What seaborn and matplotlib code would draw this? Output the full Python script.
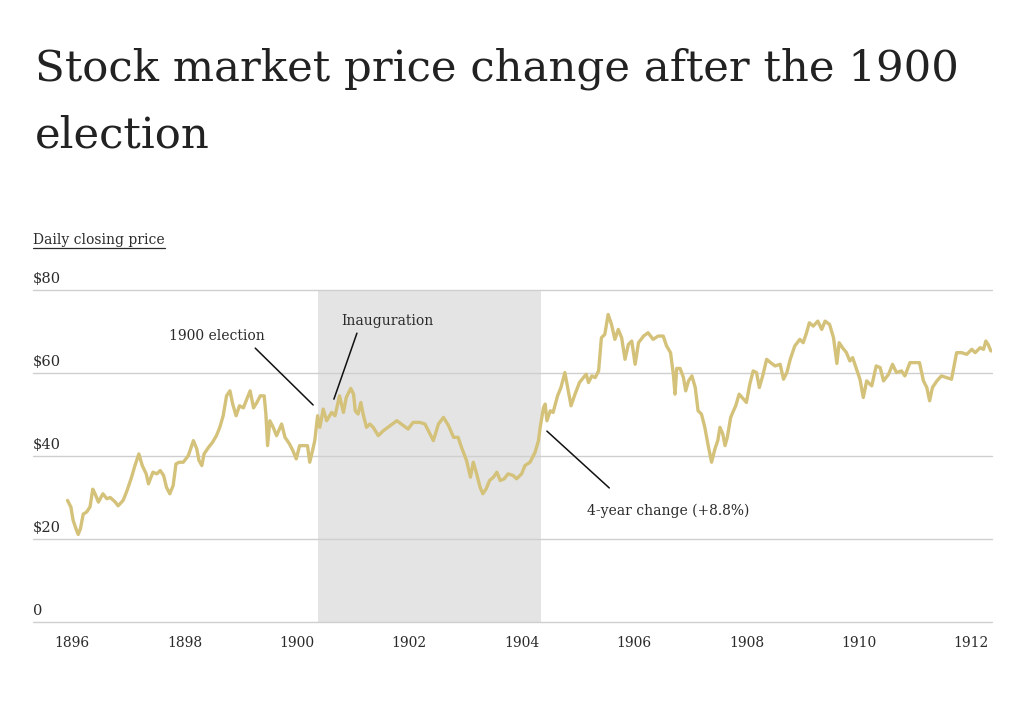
import matplotlib
matplotlib.use("Agg")
import matplotlib.pyplot as plt
import seaborn as sns
import pandas as pd

# ---- data (x in decimal years of the chart's axis) ----
years = [
    1895.92, 1895.98, 1896.02, 1896.07, 1896.11, 1896.15, 1896.20, 1896.26, 1896.32, 1896.37,
    1896.41, 1896.47, 1896.55, 1896.62, 1896.68, 1896.77, 1896.82, 1896.91, 1896.98, 1897.06,
    1897.12, 1897.19, 1897.25, 1897.32, 1897.36, 1897.44, 1897.51, 1897.57, 1897.63, 1897.68,
    1897.74, 1897.80, 1897.85, 1897.91, 1897.98, 1898.07, 1898.16, 1898.22, 1898.26, 1898.31,
    1898.35, 1898.43, 1898.50, 1898.57, 1898.63, 1898.69, 1898.75, 1898.81, 1898.86, 1898.92,
    1898.98, 1899.05, 1899.11, 1899.17, 1899.23, 1899.29, 1899.35, 1899.42, 1899.45, 1899.48,
    1899.52, 1899.58, 1899.64, 1899.73, 1899.79, 1899.87, 1899.93, 1899.99, 1900.05, 1900.12,
    1900.19, 1900.23, 1900.28, 1900.32, 1900.37, 1900.41, 1900.47, 1900.53, 1900.62, 1900.68,
    1900.76, 1900.83, 1900.88, 1900.96, 1901.01, 1901.04, 1901.09, 1901.14, 1901.18, 1901.24,
    1901.30, 1901.36, 1901.45, 1901.54, 1901.66, 1901.78, 1901.90, 1901.98, 1902.07, 1902.19,
    1902.28, 1902.34, 1902.43, 1902.52, 1902.61, 1902.70, 1902.79, 1902.87, 1902.93, 1903.02,
    1903.09, 1903.14, 1903.20, 1903.26, 1903.31, 1903.37, 1903.43, 1903.50, 1903.56, 1903.62,
    1903.69, 1903.76, 1903.85, 1903.91, 1904.00, 1904.06, 1904.15, 1904.24, 1904.30, 1904.33,
    1904.39, 1904.42, 1904.45, 1904.51, 1904.56, 1904.64, 1904.70, 1904.77, 1904.83, 1904.88,
    1904.95, 1905.03, 1905.10, 1905.15, 1905.19, 1905.25, 1905.31, 1905.37, 1905.42, 1905.48,
    1905.54, 1905.60, 1905.66, 1905.72, 1905.78, 1905.84, 1905.90, 1905.96, 1906.02, 1906.08,
    1906.17, 1906.25, 1906.34, 1906.43, 1906.52, 1906.58, 1906.65, 1906.70, 1906.73, 1906.76,
    1906.82, 1906.88, 1906.92, 1906.97, 1907.03, 1907.09, 1907.14, 1907.20, 1907.26, 1907.32,
    1907.38, 1907.44, 1907.49, 1907.53, 1907.58, 1907.62, 1907.66, 1907.72, 1907.77, 1907.81,
    1907.87, 1907.95, 1908.00, 1908.06, 1908.12, 1908.18, 1908.23, 1908.29, 1908.36, 1908.43,
    1908.51, 1908.60, 1908.66, 1908.72, 1908.78, 1908.86, 1908.95, 1909.01, 1909.07, 1909.12,
    1909.19, 1909.27, 1909.34, 1909.40, 1909.48, 1909.55, 1909.61, 1909.65, 1909.71, 1909.78,
    1909.84, 1909.89, 1909.95, 1910.02, 1910.08, 1910.14, 1910.23, 1910.31, 1910.38, 1910.44,
    1910.53, 1910.60, 1910.67, 1910.76, 1910.82, 1910.91, 1911.00, 1911.08, 1911.15, 1911.21,
    1911.26, 1911.31, 1911.39, 1911.47, 1911.56, 1911.65, 1911.74, 1911.83, 1911.92, 1912.01,
    1912.07, 1912.16, 1912.22, 1912.26, 1912.30, 1912.35,
]
prices = [
    29.3, 27.7, 24.5, 22.5, 21.1, 22.5, 26.0, 26.5, 27.7, 32.0,
    30.9, 28.9, 30.9, 29.7, 30.0, 28.9, 28.0, 29.3, 31.7, 34.9,
    37.7, 40.5, 37.7, 35.7, 33.3, 36.1, 35.7, 36.5, 35.3, 32.5,
    30.9, 32.9, 38.1, 38.5, 38.5, 40.1, 43.7, 41.7, 38.9, 37.7,
    40.5, 42.1, 43.3, 44.9, 46.9, 49.7, 54.5, 55.7, 52.5, 49.7,
    52.1, 51.6, 53.7, 55.7, 51.6, 52.9, 54.5, 54.5, 50.1, 42.5,
    48.5, 46.9, 44.9, 47.7, 44.5, 42.9, 41.3, 39.3, 42.5, 42.5,
    42.5, 38.5, 41.3, 43.7, 49.7, 46.9, 51.3, 48.5, 50.5, 49.7,
    54.5, 50.5, 54.1, 56.3, 54.9, 50.9, 50.1, 52.9, 50.1, 46.9,
    47.7, 46.9, 44.9, 46.1, 47.3, 48.5, 47.3, 46.5, 48.1, 48.1,
    47.7, 46.1, 43.7, 47.7, 49.3, 47.3, 44.5, 44.5, 42.1, 38.9,
    34.9, 38.5, 35.7, 32.5, 30.9, 32.1, 34.1, 34.9, 36.1, 34.1,
    34.5, 35.7, 35.3, 34.5, 35.7, 37.7, 38.5, 40.9, 43.7, 46.9,
    51.7, 52.5, 48.5, 50.9, 50.5, 54.5, 56.5, 60.1, 55.7, 52.1,
    54.9, 57.7, 58.9, 59.7, 57.7, 59.3, 58.9, 60.5, 68.5, 69.3,
    74.1, 71.7, 68.1, 70.5, 68.5, 63.3, 66.9, 67.7, 62.1, 67.3,
    68.9, 69.7, 68.1, 68.9, 68.9, 66.5, 64.9, 59.7, 54.9, 61.1,
    61.1, 58.9, 55.7, 58.1, 59.3, 56.5, 50.9, 50.1, 46.9, 42.5,
    38.5, 41.7, 43.7, 46.9, 45.3, 42.5, 44.5, 49.3, 50.9, 52.1,
    54.9, 53.7, 52.9, 57.3, 60.5, 60.1, 56.5, 59.3, 63.3, 62.5,
    61.7, 62.1, 58.5, 60.1, 63.3, 66.5, 68.1, 67.3, 69.7, 72.1,
    71.3, 72.5, 70.5, 72.5, 71.7, 68.5, 62.3, 67.3, 66.1, 64.9,
    62.9, 63.7, 61.3, 58.5, 54.1, 58.1, 56.9, 61.7, 61.3, 58.1,
    59.7, 62.1, 60.1, 60.5, 59.3, 62.5, 62.5, 62.5, 58.1, 56.5,
    53.3, 56.5, 58.1, 59.3, 58.9, 58.5, 64.9, 64.9, 64.5, 65.7,
    64.9, 66.1, 65.7, 67.7, 66.9, 65.3,
]
x_ticks = [1896, 1898, 1900, 1902, 1904, 1906, 1908, 1910, 1912]
y_ticks = [0, 20, 40, 60, 80]
y_labels = ["0", "$20", "$40", "$60", "$80"]
term_span = [1900.38, 1904.35]
title_lines = ["Stock market price change after the 1900", "election"]
subtitle = "Daily closing price"
annotations = ["1900 election", "Inauguration", "4-year change (+8.8%)"]

df = pd.DataFrame({"year": years, "price": prices})

SERIF = ["DejaVu Serif"]
TEXT = "#2b2b2b"
LINE = "#d4c27a"

sns.set_theme(style="white")
plt.rcParams["font.family"] = SERIF

W, H = 1024, 715
fig = plt.figure(figsize=(W / 100, H / 100), dpi=100)
ax = fig.add_axes([33 / W, 93 / H, 959 / W, 332 / H])

ax.axvspan(term_span[0], term_span[1], color="#e4e4e4", zorder=0, lw=0)
sns.lineplot(data=df, x="year", y="price", ax=ax, color=LINE, lw=2.4, zorder=3)

ax.set_xlim(1895.306, 1912.37)
ax.set_ylim(0, 80)
ax.set_yticks(y_ticks)
ax.set_yticklabels([])
ax.tick_params(axis="y", length=0)
ax.yaxis.grid(True, color="#cfcfcf", lw=1.0, zorder=1)
ax.set_axisbelow(True)
ax.set_xticks(x_ticks)
ax.set_xticklabels([str(t) for t in x_ticks], fontsize=10, color=TEXT)
ax.tick_params(axis="x", length=0, pad=10)
for s in ax.spines.values():
    s.set_visible(False)
ax.set_xlabel("")
ax.set_ylabel("")
for gl in ax.get_ygridlines():
    gl.set_clip_on(False)

for v, lab in zip(y_ticks, y_labels):
    ax.text(0, v + 1.0, lab, transform=ax.get_yaxis_transform(), ha="left",
            va="bottom", fontsize=10.5, color=TEXT)

# annotations: labels and leader lines
ARW = dict(arrowstyle="-", color="#111111", lw=1.1, shrinkA=0, shrinkB=0)
ax.text(1898.58, 68.9, annotations[0], ha="center", va="center",
        fontsize=10, color=TEXT)
ax.annotate("", xy=(1900.29, 52.3), xytext=(1899.26, 66.0), arrowprops=ARW)
ax.text(1901.62, 72.5, annotations[1], ha="center", va="center",
        fontsize=10, color=TEXT)
ax.annotate("", xy=(1900.66, 53.7), xytext=(1901.07, 69.6), arrowprops=ARW)
ax.text(1906.60, 26.75, annotations[2], ha="center", va="center",
        fontsize=10, color=TEXT)
ax.annotate("", xy=(1904.45, 46.0), xytext=(1905.56, 32.3), arrowprops=ARW)

# title, fitted to the reference width of the first line
t1 = fig.text(35 / W, 1 - 80 / H, title_lines[0], ha="left", va="baseline",
              fontsize=34, color="#222222")
fig.canvas.draw()
wpx = t1.get_window_extent().width
fs = 34 * 927 / wpx
t1.set_fontsize(fs)
fig.text(35 / W, 1 - 148 / H, title_lines[1], ha="left", va="baseline",
         fontsize=fs, color="#222222")

sub = fig.text(33 / W, 1 - 244 / H, subtitle, ha="left", va="baseline",
               fontsize=10, color=TEXT)
fig.canvas.draw()
bb = sub.get_window_extent()
fig.add_artist(plt.Line2D([bb.x0 / W, bb.x1 / W],
                          [(bb.y0 - 1) / H, (bb.y0 - 1) / H],
                          color=TEXT, lw=0.9))

fig.savefig("out.png", dpi=100)
